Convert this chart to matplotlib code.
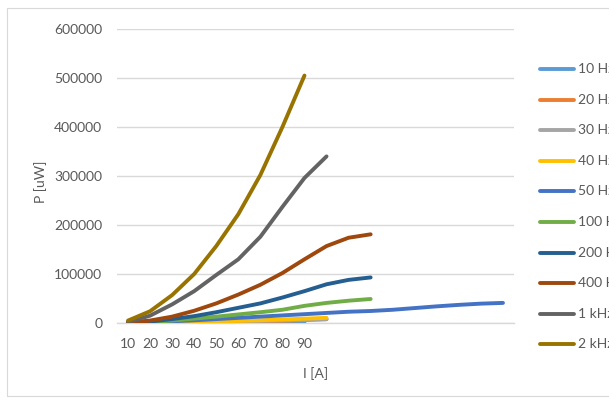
import matplotlib
matplotlib.use("Agg")
import matplotlib.pyplot as plt
from matplotlib.lines import Line2D
from matplotlib.patches import Rectangle

plt.rcParams['font.family'] = ['Lato', 'DejaVu Sans']

# Current categories (only the first nine are labelled on the axis)
categories = ["10", "20", "30", "40", "50", "60", "70", "80", "90"]
n_slots = 18

series_names = ["10 Hz", "20 Hz", "30 Hz", "40 Hz", "50 Hz",
                "100 Hz", "200 Hz", "400 Hz", "1 kHz", "2 kHz"]

p_10hz = [0, 100, 200, 350, 550, 800, 1100, 1400, 1800]
p_20hz = [0, 200, 500, 1000, 1700, 2500, 3500, 4700, 6000, 7500]
p_30hz = [0, 300, 700, 1400, 2200, 3200, 4300, 5500, 6800, 8200]
p_40hz = [0, 400, 1000, 2000, 3000, 4300, 5700, 7200, 8800, 10500]
p_50hz = [500, 1500, 3500, 5500, 8000, 10500, 13000, 15500, 18000, 20500,
          23000, 24500, 27000, 30500, 34000, 37000, 39500, 41000]
p_100hz = [300, 2000, 5000, 9000, 13000, 17500, 22000, 27000, 35000, 41000,
           45500, 49000]
p_200hz = [500, 3000, 8000, 14000, 22000, 31000, 40000, 52000, 65000, 79000,
           88000, 93000]
p_400hz = [1000, 5000, 13000, 25000, 40000, 58000, 78000, 102000, 130000,
           157000, 174000, 181000]
p_1khz = [2000, 15000, 38000, 65000, 98000, 130000, 176000, 237000, 296000,
          340000]
p_2khz = [5000, 24000, 57000, 100000, 157000, 222000, 302000, 400000, 505000]

series_values = [p_10hz, p_20hz, p_30hz, p_40hz, p_50hz,
                 p_100hz, p_200hz, p_400hz, p_1khz, p_2khz]

colors = ["#5B9BD5", "#ED7D31", "#A5A5A5", "#FFC000", "#4472C4",
          "#70AD47", "#255E91", "#9E480E", "#636363", "#997300"]

W, H = 609, 400
fig = plt.figure(figsize=(W / 100, H / 100), dpi=100)
fig.patch.set_facecolor("white")

# chart-area border
fig.patches.append(Rectangle((7 / W, 4 / H), 640 / W, 388 / H,
                             transform=fig.transFigure, fill=False,
                             edgecolor="#D9D9D9", linewidth=0.8))

ax = fig.add_axes([117 / W, (H - 323) / H, 397 / W, 294 / H])
text_color = "#595959"

for vals, col in zip(series_values, colors):
    ax.plot(range(len(vals)), vals, color=col, linewidth=2.8,
            solid_capstyle="round", solid_joinstyle="round", zorder=3)

ax.set_xlim(-0.5, n_slots - 0.5)
ax.set_ylim(0, 600000)
ax.set_yticks(range(0, 600001, 100000))
ax.set_xticks(range(len(categories)))
ax.set_xticklabels(categories)
ax.grid(axis="y", color="#D9D9D9", linewidth=1.0, zorder=0)
ax.set_axisbelow(True)
for side in ["top", "right", "left"]:
    ax.spines[side].set_visible(False)
ax.spines["bottom"].set_color("#D9D9D9")
ax.spines["bottom"].set_linewidth(1.0)
ax.tick_params(axis="both", length=0, labelsize=10, colors=text_color)
ax.tick_params(axis="y", pad=10.5)
ax.tick_params(axis="x", pad=11)

fig.text(41 / W, 1 - 182 / H, "P [uW]", rotation=90, ha="center",
         va="center", fontsize=10, color=text_color)
fig.text(316 / W, 1 - 374 / H, "I [A]", ha="center", va="center",
         fontsize=10, color=text_color)

# legend
for i, (name, col) in enumerate(zip(series_names, colors)):
    y = 1 - (69 + i * 30.6) / H
    fig.add_artist(Line2D([540 / W, 574 / W], [y, y], transform=fig.transFigure,
                          color=col, linewidth=2.8, solid_capstyle="round"))
    fig.text(578 / W, y, name, ha="left", va="center", fontsize=10,
             color=text_color)

fig.savefig("out.png", dpi=100, facecolor="white")
